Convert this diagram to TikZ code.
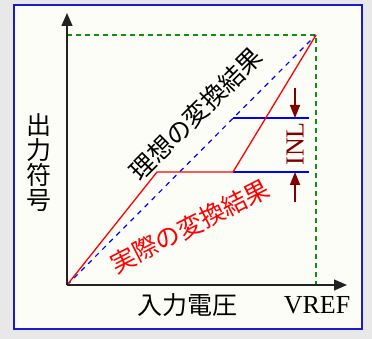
\documentclass[tikz,border=0pt]{standalone}
\usepackage{fontspec}
\setmainfont{Liberation Serif}
\newfontfamily\jp{Noto Sans CJK JP}
\usetikzlibrary{arrows.meta}
\definecolor{bgout}{HTML}{E8E8E8}
\definecolor{bgin}{HTML}{FDFDF8}
\definecolor{framec}{HTML}{1A1ACC}
\definecolor{inlc}{HTML}{800000}
\definecolor{greenc}{HTML}{109010}
\definecolor{axisc}{HTML}{222222}
\begin{document}
\begin{tikzpicture}[x=1pt,y=-1pt,
  axisline/.style={draw=axisc,line width=1.4pt,-{Triangle[length=13pt,width=11pt]}},
  guide/.style={draw=greenc,line width=1.2pt,dash pattern=on 5pt off 4pt},
  ideal/.style={draw=blue,line width=1.2pt,dash pattern=on 5pt off 5pt},
  actual/.style={draw=red,line width=1.3pt},
  codeline/.style={draw=blue,line width=1.4pt},
  inlarrow/.style={draw=inlc,line width=1.8pt,-{Triangle[length=13pt,width=10pt]}},
  jplabel/.style={font=\jp\fontsize{25}{25}\selectfont,inner sep=0pt},
  serlabel/.style={font=\fontsize{26}{26}\selectfont,inner sep=0pt}]
\useasboundingbox (0,0) rectangle (372,339);
\fill[bgout] (0,0) rectangle (372,339);
\draw[framec,fill=bgin,line width=1.5pt] (14,5) rectangle (362,329);
% coordinates
\coordinate (O) at (67,285);
\coordinate (T) at (316,35);
\coordinate (Ytop) at (67,35);
\coordinate (Xend) at (316,285);
\coordinate (Ytip) at (67,13);
\coordinate (Xtip) at (347,285);
\coordinate (K1) at (157,172);
\coordinate (K2) at (233,172);
\coordinate (B1a) at (233,118);
\coordinate (B1b) at (309,118);
\coordinate (B2b) at (309,172);
\coordinate (A1s) at (295,88);
\coordinate (A1e) at (295,118);
\coordinate (A2s) at (295,202);
\coordinate (A2e) at (295,172);
% guides
\draw[guide] (Ytop) -- (T) -- (Xend);
% ideal
\draw[ideal] (O) -- (T);
% blue code lines
\draw[codeline] (B1a) -- (B1b);
\draw[codeline] (K2) -- (B2b);
% actual
\draw[actual] (O) -- (K1) -- (K2) -- (T);
% axes
\draw[axisline] (O) -- (Ytip);
\draw[axisline] (O) -- (Xtip);
% INL arrows
\draw[inlarrow] (A1s) -- (A1e);
\draw[inlarrow] (A2s) -- (A2e);
% labels
\node[serlabel,text=inlc,rotate=90] (inl) at (295,144) {INL};
\node[jplabel,rotate=45] (ideallbl) at (196,114) {理想の変換結果};
\node[jplabel,text=red,rotate=27] (actuallbl) at (190,226) {実際の変換結果};
\node[jplabel,align=center] (ylbl) at (39,163) {出\\力\\符\\号};
\node[jplabel] (xlbl) at (187,305) {入力電圧};
\node[serlabel] (vref) at (317,305) {VREF};
\end{tikzpicture}
\end{document}
